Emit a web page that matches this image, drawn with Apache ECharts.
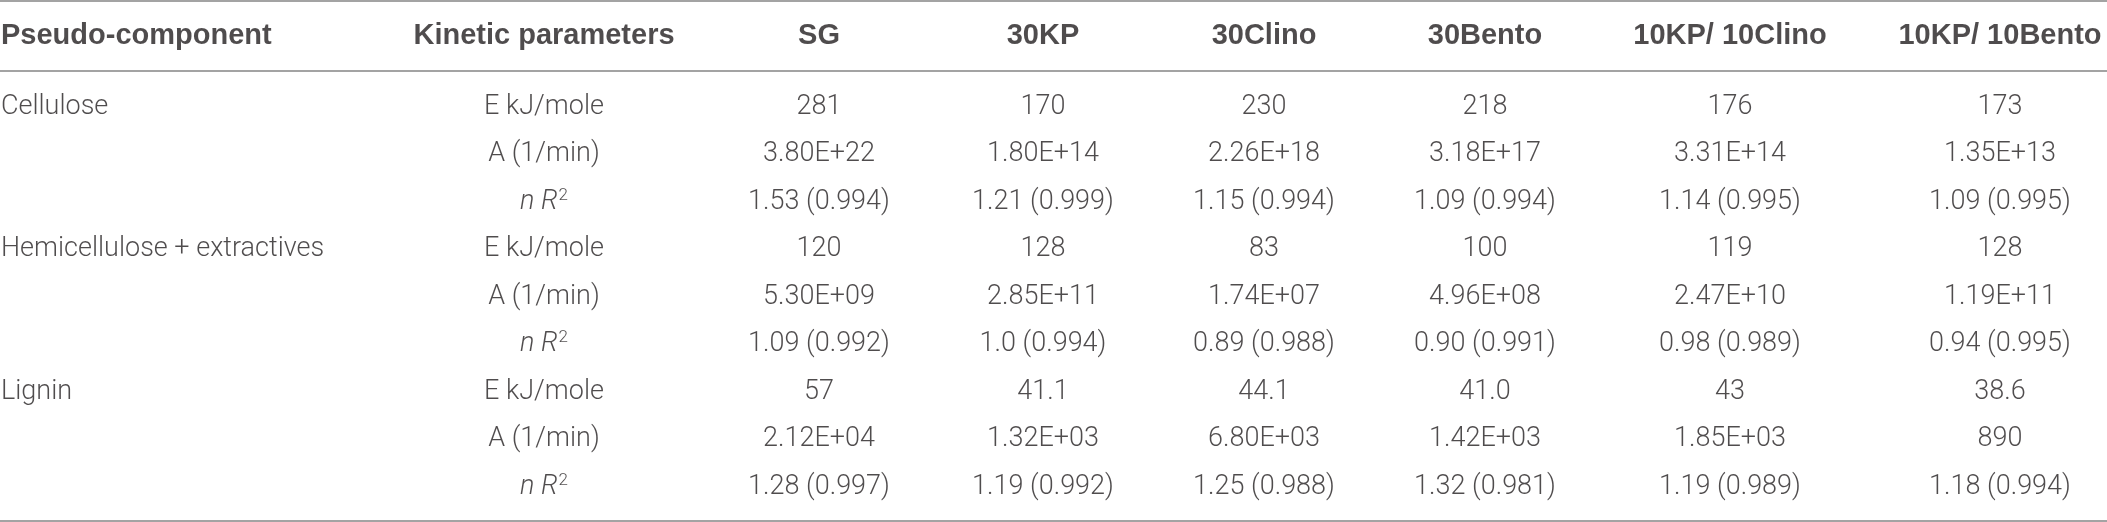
<!DOCTYPE html>
<html>
<head>
<meta charset="utf-8">
<title>Kinetic parameters</title>
<script src="https://cdn.jsdelivr.net/npm/echarts@6.0.0/dist/echarts.min.js"></script>
<style>
    html, body { margin: 0; padding: 0; background: #fff; }
    #table { width: 2107px; height: 522px; }
</style>
</head>
<body>
<div id="table"></div>
<script>
// table content
var headers = ['Pseudo-component', 'Kinetic parameters', 'SG', '30KP', '30Clino', '30Bento', '10KP/ 10Clino', '10KP/ 10Bento'];
var components = ['Cellulose', 'Hemicellulose + extractives', 'Lignin'];
var params = ['E kJ/mole', 'A (1/min)', 'nR2'];
var sg = ['281', '3.80E+22', '1.53 (0.994)', '120', '5.30E+09', '1.09 (0.992)', '57', '2.12E+04', '1.28 (0.997)'];
var kp30 = ['170', '1.80E+14', '1.21 (0.999)', '128', '2.85E+11', '1.0 (0.994)', '41.1', '1.32E+03', '1.19 (0.992)'];
var clino30 = ['230', '2.26E+18', '1.15 (0.994)', '83', '1.74E+07', '0.89 (0.988)', '44.1', '6.80E+03', '1.25 (0.988)'];
var bento30 = ['218', '3.18E+17', '1.09 (0.994)', '100', '4.96E+08', '0.90 (0.991)', '41.0', '1.42E+03', '1.32 (0.981)'];
var kpClino = ['176', '3.31E+14', '1.14 (0.995)', '119', '2.47E+10', '0.98 (0.989)', '43', '1.85E+03', '1.19 (0.989)'];
var kpBento = ['173', '1.35E+13', '1.09 (0.995)', '128', '1.19E+11', '0.94 (0.995)', '38.6', '890', '1.18 (0.994)'];

// layout: anchor of each column on the x axis (first column is left aligned)
var colX = [1, 544, 819, 1043, 1264, 1485, 1730, 2000];
var textColor = '#231f20';
var ruleColor = '#a3a3a3';
var bodyFont = 'Roboto, "Liberation Sans", Arial, sans-serif';
var headFont = '"Liberation Sans", Arial, sans-serif';

function paramText(p) {
    if (p == 'nR2') return '{it|n R}{sup|2}';
    return p;
}

function cell(x, y, text, align) {
    return {
        value: [x, y],
        text: text,
        label: { align: align || 'center' }
    };
}

function headerData() {
    var data = [];
    for (var i = 0; i < headers.length; i++) {
        data.push(cell(colX[i], 'head', headers[i], i == 0 ? 'left' : 'center'));
    }
    return data;
}

function bodyData() {
    var data = [];
    var columns = [sg, kp30, clino30, bento30, kpClino, kpBento];
    for (var r = 0; r < components.length * params.length; r++) {
        if (r % params.length == 0) {
            data.push(cell(colX[0], r, components[r / params.length], 'left'));
        }
        data.push(cell(colX[1], r, paramText(params[r % params.length])));
        for (var c = 0; c < columns.length; c++) {
            data.push(cell(colX[c + 2], r, columns[c][r]));
        }
    }
    return data;
}

function hiddenX(gridIndex, position, showLine) {
    return {
        type: 'value', gridIndex: gridIndex, position: position,
        min: 0, max: 2107,
        axisLine: { show: showLine, onZero: false, lineStyle: { color: ruleColor, width: 2 } },
        axisTick: { show: false }, axisLabel: { show: false }, splitLine: { show: false }
    };
}

function cellSeries(xIndex, yIndex, data, font, size, weight) {
    return {
        type: 'scatter', xAxisIndex: xIndex, yAxisIndex: yIndex,
        symbolSize: 1, itemStyle: { color: 'rgba(255,255,255,0)' }, clip: false, silent: true,
        data: data,
        label: {
            show: true, position: 'inside', verticalAlign: 'middle',
            color: textColor, fontFamily: font, fontSize: size, fontWeight: weight,
            formatter: function (p) { return p.data.text; },
            rich: {
                it: { fontStyle: 'italic', fontSize: size, fontFamily: font, fontWeight: weight, color: textColor },
                sup: { fontSize: 17, fontFamily: font, fontWeight: weight, color: textColor, padding: [0, 0, 13, 1] }
            }
        }
    };
}

var chart = echarts.init(document.getElementById('table'));
chart.setOption({
    backgroundColor: '#fff',
    animation: false,
    grid: [
        { left: 0, right: 0, top: 1, height: 70 },
        { left: 0, right: 0, top: 71, bottom: 1 }
    ],
    xAxis: [
        hiddenX(0, 'top', true),
        hiddenX(1, 'top', true),
        hiddenX(1, 'bottom', true)
    ],
    yAxis: [
        { type: 'category', gridIndex: 0, data: ['head'], show: false },
        { type: 'value', gridIndex: 1, inverse: true, min: -0.76, max: 8.72, show: false }
    ],
    series: [
        cellSeries(0, 0, headerData(), headFont, 29, 'bold'),
        cellSeries(1, 1, bodyData(), bodyFont, 27, 300)
    ]
});
</script>
</body>
</html>
